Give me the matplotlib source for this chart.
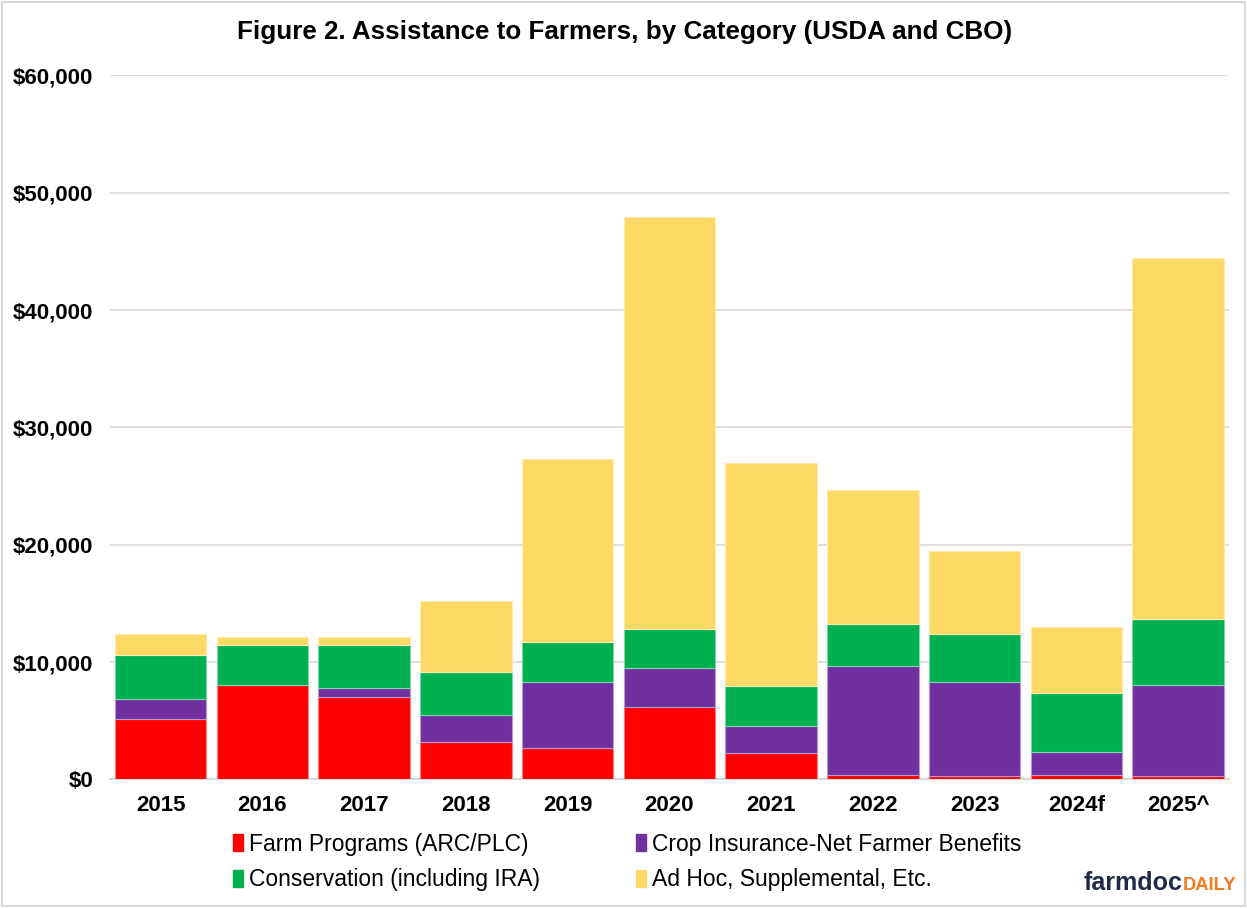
import numpy as np
import matplotlib.pyplot as plt
from matplotlib.patches import Rectangle, Patch

plt.rcParams['font.family'] = ['Liberation Sans', 'DejaVu Sans']

years = ['2015', '2016', '2017', '2018', '2019', '2020', '2021', '2022', '2023', '2024f', '2025^']

# millions of dollars, stacked bottom to top
farm_programs = [5140, 8040, 6990, 3150, 2690, 6190, 2220, 370, 310, 370, 280]
crop_insurance = [1710, 0, 820, 2330, 5610, 3270, 2350, 9310, 7990, 1980, 7760]
conservation = [3770, 3380, 3610, 3640, 3380, 3380, 3360, 3530, 4090, 5010, 5600]
ad_hoc = [1770, 710, 710, 6080, 15630, 35120, 19040, 11430, 7100, 5600, 30830]

labels = ['Farm Programs (ARC/PLC)', 'Crop Insurance-Net Farmer Benefits',
          'Conservation (including IRA)', 'Ad Hoc, Supplemental, Etc.']
colors = ['#FF0000', '#7030A0', '#00B050', '#FFD966']
edges = ['#FF8080', '#B898D0', '#80D8A8', '#FFECB3']

fig = plt.figure(figsize=(12.47, 9.08), dpi=100)
ax = fig.add_axes([0.088, 0.1417, 0.8976, 0.7753])

x = np.arange(len(years))
bottom = np.zeros(len(years))
for vals, c, ec in zip([farm_programs, crop_insurance, conservation, ad_hoc], colors, edges):
    ax.bar(x, vals, width=0.9, bottom=bottom, color=c, edgecolor=ec, linewidth=0.8, zorder=3)
    bottom += np.array(vals)

ax.set_xlim(-0.5, len(years) - 0.5)
ax.set_ylim(0, 60000)
ax.set_yticks(range(0, 60001, 10000))
ax.set_yticklabels(['${:,}'.format(v) for v in range(0, 60001, 10000)])
ax.set_xticks(x)
ax.set_xticklabels(years)
ax.yaxis.grid(True, color='#D9D9D9', linewidth=1.2, zorder=0)
ax.tick_params(length=0, labelsize=16)
ax.tick_params(axis='x', pad=11)
ax.tick_params(axis='y', pad=12)
for lab in ax.get_xticklabels() + ax.get_yticklabels():
    lab.set_fontweight('bold')
for s in ['top', 'right', 'left']:
    ax.spines[s].set_visible(False)
ax.spines['bottom'].set_color('#D9D9D9')
ax.spines['bottom'].set_linewidth(1.5)

fig.text(0.501, 0.965, 'Figure 2. Assistance to Farmers, by Category (USDA and CBO)',
         ha='center', va='center', fontsize=18.7, fontweight='bold')

handles = [Patch(color=c) for c in colors]
order = [0, 2, 1, 3]
fig.legend([handles[i] for i in order], [labels[i] for i in order],
           ncol=2, loc='center', bbox_to_anchor=(0.503, 0.0507), frameon=False,
           fontsize=16.5, handlelength=0.45, handleheight=0.8, handletextpad=0.25,
           columnspacing=4.2, labelspacing=0.55)

# farmdoc daily wordmark
fig.text(0.9485, 0.0195, 'farmdoc', ha='right', va='baseline', fontsize=18,
         fontweight='bold', color='#1F2A4A')
fig.text(0.9485, 0.0195, 'DAILY', ha='left', va='baseline', fontsize=13.2,
         fontweight='bold', color='#F47B20')

fig.patches.append(Rectangle((0.002, 0.002), 0.996, 0.996, transform=fig.transFigure,
                             fill=False, edgecolor='#D9D9D9', linewidth=1.5))

fig.savefig('out.png', dpi=100)
